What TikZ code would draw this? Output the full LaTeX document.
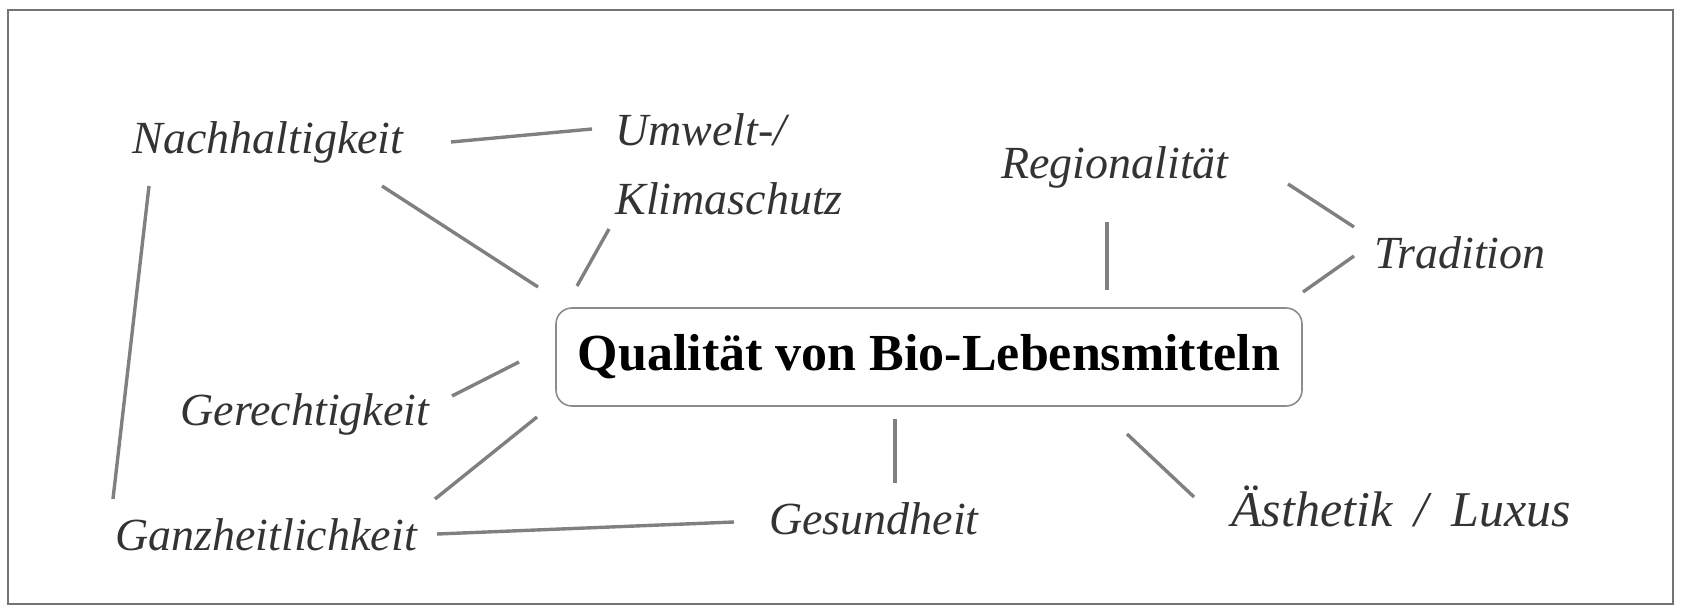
\documentclass[tikz,border=0pt]{standalone}
\usepackage{fontspec}
\setmainfont{Liberation Serif}
\begin{document}
\begin{tikzpicture}[x=0.5pt,y=-0.5pt,
  lab/.style={font=\fontsize{23}{34.5}\selectfont\itshape, text=black!80, inner sep=0pt, anchor=base},
  conn/.style={draw=black!50, line width=1.7pt},
  centralbox/.style={draw=black!45, line width=0.8pt, rounded corners=8pt,
     minimum width=373pt, minimum height=49pt, inner sep=0pt,
     font=\fontsize{26}{30}\selectfont\bfseries, text=black},
  frame/.style={draw=black!55, line width=1.1pt}]
\useasboundingbox (0,0) rectangle (1684,609);
\draw[frame] (8,10) rectangle (1673,604);
% nodes
\node[centralbox] (q) at (929,357) {Qualität von Bio-Lebensmitteln};
\node[lab] (nach) at (268,154) {Nachhaltigkeit};
\node[lab, anchor=north west, align=left] (umw) at (615,113) {Umwelt-/\\Klimaschutz};
\node[lab] (reg) at (1115,179) {Regionalität};
\node[lab] (trad) at (1460,268) {Tradition};
\node[lab] (ger) at (305,425) {Gerechtigkeit};
\node[lab] (ganz) at (266,550) {Ganzheitlichkeit};
\node[lab] (ges) at (874,534) {Gesundheit};
\node[lab, font=\fontsize{25}{30}\selectfont\itshape] (aest) at (1401,526) {Ästhetik\hspace{0.45em}/\hspace{0.45em}Luxus};
% connector ends
\coordinate (nachR) at (451,142); \coordinate (umwL) at (592,129);
\coordinate (nachD) at (382,186); \coordinate (qNW) at (538,287);
\coordinate (umwD) at (609,229); \coordinate (qN1) at (577,286);
\coordinate (nachL) at (149,186); \coordinate (ganzU) at (113,499);
\coordinate (regD) at (1107,222); \coordinate (qN2) at (1107,290);
\coordinate (regR) at (1288,184); \coordinate (tradL1) at (1354,227);
\coordinate (tradL2) at (1354,256); \coordinate (qNE) at (1303,292);
\coordinate (gerR) at (452,396); \coordinate (qW) at (519,362);
\coordinate (ganzR1) at (435,499); \coordinate (qSW) at (537,417);
\coordinate (gesU) at (895,483); \coordinate (qS) at (895,419);
\coordinate (ganzR2) at (437,534); \coordinate (gesL) at (734,522);
\coordinate (aestU) at (1194,497); \coordinate (qSE) at (1127,434);
% connectors
\draw[conn] (nachR) -- (umwL);
\draw[conn] (nachD) -- (qNW);
\draw[conn] (umwD) -- (qN1);
\draw[conn] (nachL) -- (ganzU);
\draw[conn] (regD) -- (qN2);
\draw[conn] (regR) -- (tradL1);
\draw[conn] (tradL2) -- (qNE);
\draw[conn] (gerR) -- (qW);
\draw[conn] (ganzR1) -- (qSW);
\draw[conn] (qS) -- (gesU);
\draw[conn] (ganzR2) -- (gesL);
\draw[conn] (qSE) -- (aestU);
\end{tikzpicture}
\end{document}
